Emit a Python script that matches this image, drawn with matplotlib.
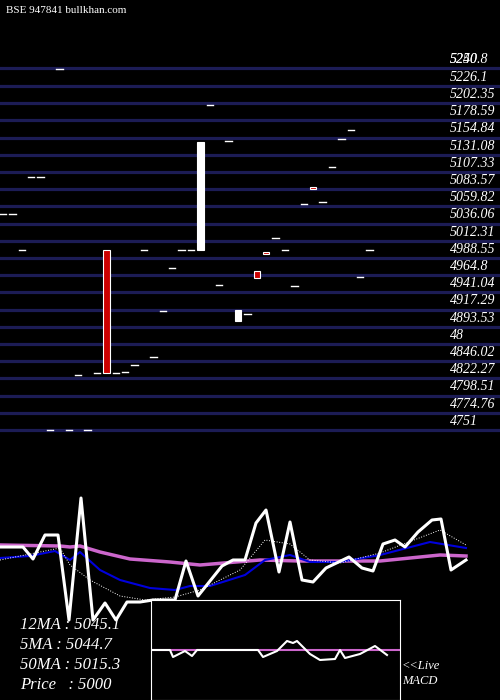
import numpy as np
import matplotlib.pyplot as plt

# price grid labels (top to bottom)
levels = [5250.8, 5226.1, 5202.35, 5178.59, 5154.84, 5131.08, 5107.33, 5083.57, 5059.82,
          5036.06, 5012.31, 4988.55, 4964.8, 4941.04, 4917.29, 4893.53, 4870.0, 4846.02,
          4822.27, 4798.51, 4774.76, 4751.0]
level_text = ["5240.8", "5226.1", "5202.35", "5178.59", "5154.84", "5131.08", "5107.33", "5083.57",
              "5059.82", "5036.06", "5012.31", "4988.55", "4964.8", "4941.04", "4917.29", "4893.53",
              "48", "4846.02", "4822.27", "4798.51", "4774.76", "4751"]

# candles: open, close (white = up, red = down)
opens = [5049.3, 5049.3, 4999.6, 5100.4, 5100.4, 4751, 5249.6, 4751, 4827.0, 4751,
         4829.8, 4999.6, 4829.8, 4831.1, 4840.8, 4999.6, 4851.8, 4915.4, 4974.8, 4999.6,
         4999.6, 4999.6, 5199.9, 4951.3, 5150.1, 4901.6, 4911.2, 4970.6, 4997.0, 5016.2,
         4999.6, 4949.9, 5063.1, 5086.5, 5065.9, 5114.2, 5152.9, 5165.3, 4962.3, 4999.6]
closes = [5049.3, 5049.3, 4999.6, 5100.4, 5100.4, 4751, 5249.6, 4751, 4827.0, 4751,
          4829.8, 4829.8, 4829.8, 4831.1, 4840.8, 4999.6, 4851.8, 4915.4, 4974.8, 4999.6,
          4999.6, 5148.8, 5199.9, 4951.3, 5150.1, 4916.8, 4911.2, 4960.9, 4994.0, 5016.2,
          4999.6, 4949.9, 5063.1, 5084.0, 5065.9, 5114.2, 5152.9, 5165.3, 4962.3, 4999.6]

# lower panel lines (x pixel, y pixel)
px_x = [0, 23, 33, 45, 58, 69, 81, 93, 105, 116, 127, 140, 153, 175, 186, 198, 222, 233, 245,
        256, 266, 279, 290, 302, 313, 326, 349, 362, 373, 383, 395, 405, 418, 432, 441, 451, 466]
px_y = [547, 547, 559, 535, 535, 620, 498, 620, 603, 620, 602, 602, 600, 600, 561, 596, 566,
        560, 560, 523, 510, 572, 522, 580, 582, 568, 557, 568, 571, 544, 540, 547, 532, 520,
        519, 570, 560]
ma50_x = [0, 60, 70, 80, 100, 130, 170, 200, 260, 300, 380, 440, 466]
ma50_y = [545, 546, 547, 546, 552, 559, 562, 565, 560, 561, 561, 555, 556]
ma5_x = [0, 30, 55, 70, 80, 100, 120, 150, 175, 190, 210, 245, 265, 290, 310, 340, 380, 430, 466]
ma5_y = [558, 556, 551, 560, 552, 570, 580, 588, 590, 586, 586, 575, 560, 555, 562, 562, 555, 542, 548]
ma12_x = [0, 40, 60, 70, 90, 120, 145, 175, 200, 240, 265, 290, 310, 340, 380, 440, 466]
ma12_y = [560, 552, 548, 565, 580, 596, 600, 597, 590, 570, 540, 544, 560, 563, 553, 530, 545]
macd_x = [151, 170, 173, 185, 192, 197, 258, 263, 277, 287, 293, 297, 310, 320, 335, 340, 345, 360, 375, 387]
macd_y = [650, 650, 657, 651, 656, 650, 650, 657, 651, 641, 643, 641, 654, 660, 659, 650, 658, 654, 646, 655]

fig = plt.figure(figsize=(5, 7), dpi=100, facecolor="black")
serif = dict(family="Liberation Serif", style="italic", color="white")

# top: price axes across the whole figure
ax = fig.add_axes([0, 0, 1, 1])
ax.set_facecolor("black")
slope = 475.1 / 344
ax.set_ylim(5226.1 - 614 * slope, 5226.1 + 86 * slope)
ax.set_xlim(-3 / 9.4, 497 / 9.4)
ax.axis("off")
for lv, t in zip(levels, level_text):
    ax.axhline(lv, color="#1c1c55", lw=2.3, zorder=1)
    ax.text(450 / 9.4 - 0.3, lv + 3, t, fontsize=10, va="bottom", **serif)
ax.text(450 / 9.4 - 0.3, 5250.8 + 3, "5250", fontsize=10, va="bottom", **serif)
for i, (o, c) in enumerate(zip(opens, closes)):
    if abs(o - c) < 1:
        ax.plot([i - 0.35, i + 0.35], [o, o], color="white", lw=1, zorder=3)
    else:
        col = "white" if c > o else "#cc0000"
        ax.bar(i, abs(c - o), bottom=min(o, c), width=0.7, color=col,
               edgecolor="white", lw=0.8, zorder=3)
ax.text(3 / 9.4, 5226.1 + 76 * slope, "BSE 947841 bullkhan.com", fontsize=8,
        family="Liberation Serif", color="white", va="center")

# bottom: moving averages
bx = fig.add_axes([0, 0, 1, 210 / 700])
bx.set_xlim(0, 500)
bx.set_ylim(700, 490)
bx.axis("off")
bx.patch.set_alpha(0)
bx.plot(ma50_x, ma50_y, color="#cc66cc", lw=2.5)
bx.plot(ma5_x, ma5_y, color="#0000dd", lw=1.5)
bx.plot(ma12_x, ma12_y, color="white", lw=0.7, ls=":")
bx.plot(px_x, px_y, color="white", lw=2.2)
for y, t in [(605, "12MA : 5045.1"), (625, "5MA : 5044.7"), (645, "50MA : 5015.3"), (665, "Price   : 5000")]:
    bx.text(20, y + 20, t, fontsize=12, va="center", **serif)
bx.text(402, 666, "<<Live", fontsize=9, va="center", **serif)
bx.text(402, 681, "MACD", fontsize=9, va="center", **serif)

# MACD box
mx = fig.add_axes([151 / 500, 0, 249 / 500, 100 / 700])
mx.set_facecolor("black")
mx.set_xlim(151, 400)
mx.set_ylim(700, 600)
mx.set_xticks([])
mx.set_yticks([])
for s in mx.spines.values():
    s.set_color("white")
mx.axhline(650, color="#cc66cc", lw=1.5)
mx.plot(macd_x, macd_y, color="white", lw=1.5)

fig.savefig("out.png", dpi=100, facecolor="black")
